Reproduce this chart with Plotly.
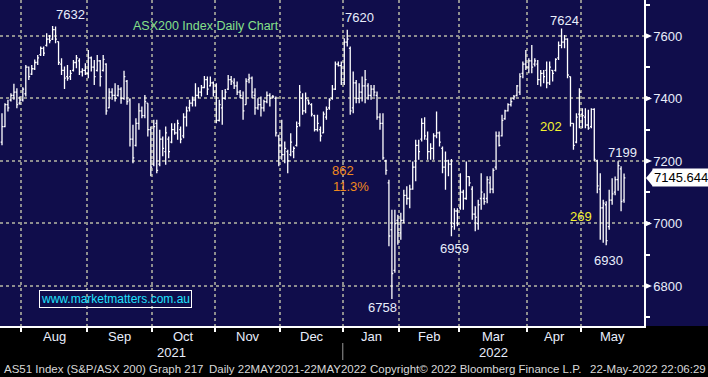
import pandas as pd
import plotly.graph_objects as go

# ---------------- data (ASX200 daily OHLC) ----------------
holidays = ["2021-12-27", "2021-12-28", "2022-01-03", "2022-01-26",
            "2022-04-15", "2022-04-18", "2022-04-25"]
dates = [d for d in pd.bdate_range("2021-07-22", "2022-05-20")
         if d.strftime("%Y-%m-%d") not in holidays]

opens = [
    # Jul
    7260, 7310, 7380, 7395, 7410, 7420, 7385,
    # Aug
    7395, 7415, 7500, 7478, 7495, 7515, 7540, 7560, 7570, 7590, 7590, 7620, 7582, 7510, 7490, 7470, 7470, 7490, 7515, 7520, 7485, 7490,
    # Sep
    7480, 7530, 7500, 7490, 7520, 7490, 7510, 7370, 7420, 7410, 7410, 7430, 7400, 7455, 7395, 7270, 7250, 7320, 7360, 7345, 7385, 7300,
    # Oct
    7190, 7320, 7190, 7270, 7230, 7270, 7260, 7300, 7290, 7300, 7280, 7340, 7370, 7385, 7395, 7410, 7420, 7435, 7460, 7440, 7450,
    # Nov
    7440, 7330, 7370, 7400, 7430, 7460, 7450, 7440, 7420, 7400, 7380, 7460, 7465, 7410, 7370, 7380, 7370, 7390, 7410, 7405, 7400, 7280,
    # Dec
    7250, 7220, 7230, 7220, 7230, 7250, 7320, 7400, 7360, 7395, 7380, 7345, 7300, 7300, 7290, 7340, 7370, 7400, 7430, 7510, 7505,
    # Jan
    7450, 7580, 7560, 7370, 7450, 7400, 7420, 7440, 7440, 7410, 7430, 7410, 7340, 7320, 7200, 7130, 6980, 6850, 7010,
    # Feb
    6970, 7010, 7090, 7080, 7110, 7180, 7250, 7270, 7320, 7270, 7230, 7240, 7280, 7290, 7240, 7180, 7200, 7190, 7000, 7040,
    # Mar
    7050, 7100, 7080, 7150, 7110, 7030, 7000, 7080, 7080, 7080, 7130, 7110, 7180, 7280, 7280, 7335, 7360, 7380, 7400, 7410, 7420, 7480, 7510,
    # Apr
    7500, 7520, 7510, 7510, 7460, 7480, 7490, 7450, 7490, 7490, 7530, 7570, 7580, 7590, 7470, 7320, 7260, 7350,
    # May
    7350, 7340, 7315, 7310, 7365, 7200, 7110, 7050, 7060, 6990, 7075, 7100, 7140, 7175, 7075,
]
highs = [
    7353, 7385, 7396, 7417, 7447, 7433, 7406,
    7436, 7507, 7502, 7507, 7525, 7539, 7566, 7566, 7609, 7603, 7632, 7630, 7582, 7529, 7502, 7507, 7491, 7523, 7539, 7529, 7497, 7513,
    7555, 7534, 7523, 7539, 7523, 7539, 7513, 7433, 7433, 7449, 7443, 7436, 7489, 7459, 7401, 7316, 7337, 7385, 7374, 7411, 7385, 7310,
    7332, 7332, 7300, 7278, 7310, 7278, 7321, 7321, 7332, 7310, 7353, 7374, 7396, 7406, 7449, 7436, 7443, 7472, 7470, 7470, 7454,
    7449, 7396, 7427, 7430, 7475, 7472, 7465, 7454, 7427, 7422, 7465, 7479, 7470, 7433, 7401, 7406, 7396, 7422, 7417, 7411, 7406, 7284,
    7332, 7262, 7236, 7289, 7246, 7326, 7443, 7417, 7419, 7396, 7385, 7348, 7348, 7310, 7358, 7374, 7401, 7443, 7518, 7518, 7518,
    7593, 7620, 7566, 7486, 7459, 7449, 7470, 7491, 7449, 7443, 7443, 7422, 7353, 7353, 7204, 7140, 7044, 7044, 7028,
    7034, 7108, 7119, 7124, 7198, 7268, 7268, 7337, 7340, 7294, 7257, 7289, 7358, 7294, 7246, 7230, 7204, 7206, 7049, 7049,
    7161, 7108, 7198, 7151, 7119, 7055, 7076, 7161, 7097, 7151, 7151, 7177, 7294, 7294, 7348, 7364, 7385, 7401, 7411, 7443, 7481, 7518, 7555,
    7529, 7571, 7529, 7523, 7491, 7491, 7518, 7518, 7491, 7529, 7582, 7624, 7603, 7593, 7470, 7321, 7353, 7433,
    7369, 7369, 7364, 7369, 7369, 7204, 7161, 7076, 7071, 7108, 7145, 7150, 7199, 7183, 7160,
]
lows = [
    7250, 7308, 7358, 7390, 7396, 7369, 7380,
    7390, 7406, 7459, 7475, 7491, 7507, 7536, 7536, 7566, 7577, 7587, 7577, 7507, 7475, 7430, 7457, 7459, 7486, 7497, 7475, 7470, 7475,
    7465, 7486, 7443, 7486, 7438, 7486, 7348, 7369, 7396, 7390, 7406, 7383, 7396, 7380, 7246, 7193, 7246, 7300, 7337, 7337, 7278, 7151,
    7183, 7161, 7183, 7215, 7188, 7209, 7257, 7284, 7268, 7257, 7273, 7310, 7358, 7374, 7374, 7401, 7406, 7433, 7411, 7438, 7406,
    7321, 7326, 7316, 7396, 7427, 7443, 7430, 7411, 7401, 7332, 7380, 7449, 7401, 7348, 7364, 7342, 7358, 7385, 7374, 7401, 7278, 7183,
    7204, 7193, 7161, 7215, 7209, 7246, 7310, 7348, 7353, 7380, 7342, 7294, 7294, 7262, 7289, 7332, 7364, 7396, 7427, 7502, 7443,
    7443, 7566, 7348, 7353, 7385, 7385, 7390, 7385, 7396, 7396, 7406, 7332, 7300, 7204, 7156, 6927, 6758, 6842, 6932,
    6948, 7001, 7060, 7049, 7108, 7135, 7204, 7262, 7268, 7204, 7204, 7204, 7273, 7246, 7161, 7108, 7151, 6959, 6980, 6991,
    7044, 7044, 7076, 7119, 7012, 6975, 6980, 7044, 7060, 7065, 7097, 7097, 7172, 7246, 7278, 7332, 7358, 7374, 7396, 7406, 7411, 7465, 7491,
    7481, 7481, 7502, 7443, 7438, 7449, 7433, 7443, 7454, 7486, 7523, 7561, 7561, 7465, 7310, 7236, 7257, 7305,
    7305, 7305, 7300, 7305, 7200, 7097, 6948, 6938, 6930, 6980, 7060, 7090, 7105, 7039, 7066,
]
closes = [
    7310, 7380, 7370, 7410, 7420, 7380, 7395,
    7430, 7500, 7470, 7495, 7515, 7530, 7560, 7545, 7590, 7585, 7620, 7590, 7515, 7490, 7465, 7465, 7480, 7515, 7530, 7485, 7490, 7480,
    7530, 7500, 7470, 7520, 7470, 7525, 7360, 7420, 7410, 7400, 7430, 7400, 7470, 7390, 7270, 7210, 7320, 7360, 7345, 7390, 7300, 7180,
    7310, 7170, 7270, 7240, 7290, 7230, 7300, 7290, 7320, 7270, 7340, 7360, 7385, 7395, 7410, 7420, 7435, 7460, 7430, 7450, 7420,
    7330, 7380, 7400, 7420, 7460, 7455, 7440, 7420, 7410, 7360, 7455, 7465, 7420, 7370, 7380, 7370, 7390, 7410, 7400, 7405, 7290, 7250,
    7220, 7240, 7200, 7260, 7240, 7310, 7420, 7360, 7400, 7385, 7350, 7300, 7320, 7280, 7350, 7365, 7395, 7430, 7510, 7505, 7450,
    7580, 7590, 7360, 7450, 7400, 7420, 7440, 7460, 7410, 7430, 7420, 7340, 7320, 7210, 7170, 6960, 6840, 7000, 6970,
    7010, 7090, 7080, 7110, 7180, 7250, 7230, 7320, 7280, 7230, 7240, 7280, 7290, 7260, 7180, 7200, 7190, 6990, 7040, 7000,
    7100, 7080, 7150, 7130, 7030, 7020, 7060, 7100, 7070, 7140, 7110, 7170, 7280, 7250, 7330, 7360, 7380, 7390, 7405, 7440, 7470, 7510, 7500,
    7520, 7500, 7520, 7460, 7480, 7470, 7450, 7500, 7480, 7525, 7570, 7580, 7590, 7475, 7320, 7250, 7340, 7420,
    7345, 7315, 7305, 7365, 7205, 7120, 7050, 7065, 6945, 7075, 7095, 7140, 7185, 7070, 7145.644,
]

y_major = [6800, 7000, 7200, 7400, 7600]
y_minor = [6700, 6900, 7100, 7300, 7500, 7700]
month_names = ["Aug", "Sep", "Oct", "Nov", "Dec", "Jan", "Feb", "Mar", "Apr", "May"]
year_labels = ["2021", "2022"]
swing_labels = ["202", "269"]
drop_labels = ["862", "11.3%"]

# ---------------- styling ----------------
NAVY = "#100d4b"
WHITE_TXT = "#e9eefc"
FONT = "Liberation Sans, Arial, sans-serif"
PLOT_W, PLOT_H = 644, 326
X_MIN, X_MAX = -0.672, 215.7
Y_MIN, Y_MAX = 6672, 7715

n = len(closes)
xs = list(range(n))

# month boundaries (between last bar of a month and first of next)
bounds = [i - 0.5 for i in range(1, n) if dates[i].month != dates[i - 1].month]
edges = bounds + [X_MAX]
month_mids = [(edges[k] + edges[k + 1]) / 2 for k in range(len(bounds))]
jan_bound = bounds[month_names.index("Jan")]

fig = go.Figure()
fig.add_trace(go.Ohlc(
    x=xs, open=opens, high=highs, low=lows, close=closes,
    increasing=dict(line=dict(color="white", width=1.3)),
    decreasing=dict(line=dict(color="white", width=1.3)),
    tickwidth=0.45, hoverinfo="skip", showlegend=False,
))

shapes = [
    # navy backdrop behind right axis
    dict(type="rect", xref="paper", yref="paper", x0=1, x1=1 + 64 / PLOT_W, y0=0, y1=1,
         fillcolor=NAVY, line=dict(width=0), layer="below"),
    # year separator
    dict(type="line", xref="x", yref="paper", x0=jan_bound, x1=jan_bound,
         y0=-17 / PLOT_H, y1=-34 / PLOT_H, line=dict(color="#9a9a9a", width=1)),
]
for v in y_major:
    shapes.append(dict(type="path", xref="paper", yref="y", xsizemode="pixel", ysizemode="pixel",
                       xanchor=1, yanchor=v, path="M0,3.5 L8,0 L0,-3.5 Z",
                       fillcolor="white", line=dict(width=0)))
# price tag arrow
shapes.append(dict(type="path", xref="paper", yref="y", xsizemode="pixel", ysizemode="pixel",
                   xanchor=1, yanchor=closes[-1], path="M2,0 L9,8.5 L9,-8.5 Z",
                   fillcolor="white", line=dict(width=0)))

ann = []
for name, mx in zip(month_names, month_mids):
    ann.append(dict(x=mx, y=0, xref="x", yref="paper", text=name, showarrow=False,
                    xanchor="center", yanchor="middle", yshift=-10,
                    font=dict(family=FONT, size=13, color=WHITE_TXT)))
for lab, cx in zip(year_labels, [(X_MIN + jan_bound) / 2, (jan_bound + X_MAX) / 2]):
    ann.append(dict(x=cx, y=0, xref="x", yref="paper", text=lab, showarrow=False,
                    xanchor="center", yanchor="middle", yshift=-26,
                    font=dict(family=FONT, size=13, color=WHITE_TXT)))

footer = [("AS51 Index (S&P/ASX 200) Graph 217", 2), ("Daily 22MAY2021-22MAY2022", 207),
          ("Copyright© 2022 Bloomberg Finance L.P.", 368), ("22-May-2022 22:06:29", 588)]
for txt, px in footer:
    ann.append(dict(x=px / PLOT_W, y=0, xref="paper", yref="paper", text=txt, showarrow=False,
                    xanchor="left", yanchor="middle", yshift=-43,
                    font=dict(family=FONT, size=11.5, color="#d8d8d8")))

# extreme labels anchored at their bars
def lab_at(i, val, dx, dy):
    ann.append(dict(x=xs[i], y=val, xref="x", yref="y", text=f"{val:.0f}", showarrow=False,
                    xanchor="center", yanchor="middle", xshift=dx, yshift=dy,
                    font=dict(family=FONT, size=13, color=WHITE_TXT)))

i_aug = max(range(0, 60), key=lambda i: highs[i])
i_jan = max(range(100, 130), key=lambda i: highs[i])
i_apr = max(range(170, 200), key=lambda i: highs[i])
i_low = min(range(n), key=lambda i: lows[i])
i_feb = min(range(140, 165), key=lambda i: lows[i])
i_may = min(range(195, n), key=lambda i: lows[i])
i_mayh = max(range(204, n), key=lambda i: highs[i])
lab_at(i_aug, highs[i_aug], 18, 11)
lab_at(i_jan, highs[i_jan], 12, 12)
lab_at(i_apr, highs[i_apr], 3, 8)
lab_at(i_low, lows[i_low], -9, -8)
lab_at(i_feb, lows[i_feb], 3, -12)
lab_at(i_may, lows[i_may], 2, -15)
lab_at(i_mayh, highs[i_mayh], 4, 9)

ORANGE = "#f08a1e"
YELLOW = "#f4f430"
ann.append(dict(x=114.6, y=7168, xref="x", yref="y", text=drop_labels[0], showarrow=False,
                font=dict(family=FONT, size=13, color=ORANGE)))
ann.append(dict(x=117.3, y=7117, xref="x", yref="y", text=drop_labels[1], showarrow=False,
                font=dict(family=FONT, size=13, color=ORANGE)))
ann.append(dict(x=184.5, y=7309, xref="x", yref="y", text=swing_labels[0], showarrow=False,
                font=dict(family=FONT, size=13, color=YELLOW)))
ann.append(dict(x=194.6, y=7021, xref="x", yref="y", text=swing_labels[1], showarrow=False,
                font=dict(family=FONT, size=13, color=YELLOW)))

ann.append(dict(x=206 / PLOT_W, y=1 - 26 / PLOT_H, xref="paper", yref="paper",
                text="ASX200 Index Daily Chart", showarrow=False, xanchor="center", yanchor="middle",
                font=dict(family=FONT, size=12.5, color="#86e08a")))
ann.append(dict(x=115.5 / PLOT_W, y=1 - 299 / PLOT_H, xref="paper", yref="paper",
                text="www.marketmatters.com.au", showarrow=False, xanchor="center", yanchor="middle",
                bordercolor="white", borderwidth=1, borderpad=1,
                font=dict(family=FONT, size=12, color="#1fe3ff")))
# last price tag
ann.append(dict(x=1, y=closes[-1], xref="paper", yref="y", text=f"{closes[-1]:.3f}",
                showarrow=False, xanchor="left", yanchor="middle", xshift=8,
                bgcolor="white", borderpad=1,
                font=dict(family=FONT, size=13, color="black")))

fig.update_layout(
    width=708, height=377, autosize=False,
    margin=dict(l=0, r=64, t=0, b=51, pad=0),
    paper_bgcolor="black", plot_bgcolor=NAVY,
    showlegend=False, shapes=shapes, annotations=ann,
    xaxis=dict(range=[X_MIN, X_MAX], tickmode="array", tickvals=bounds,
               ticktext=[""] * len(bounds), showticklabels=False,
               ticks="outside", ticklen=4, tickwidth=1.5, tickcolor="white",
               showgrid=True, gridcolor="#8e8e8e", gridwidth=2, griddash="dot",
               showline=True, linecolor="white", linewidth=2, zeroline=False,
               rangeslider=dict(visible=False), fixedrange=True),
    yaxis=dict(range=[Y_MIN, Y_MAX], side="right", tickmode="array", tickvals=y_major,
               ticktext=[str(v) for v in y_major], ticks="outside", ticklen=4,
               tickcolor="white", tickwidth=1.5, ticklabelstandoff=1,
               tickfont=dict(family=FONT, size=13, color=WHITE_TXT),
               showgrid=True, gridcolor="#8e8e8e", gridwidth=2, griddash="dot",
               showline=True, linecolor="white", linewidth=1.5, zeroline=False,
               minor=dict(tickmode="array", tickvals=y_minor, ticks="outside", ticklen=4,
                          tickcolor="white", tickwidth=1.5, showgrid=False),
               fixedrange=True),
)

fig.write_html("out.html", config={"displayModeBar": False},
               post_script="document.body.style.margin='0';document.body.style.padding='0';"
                           "document.body.style.overflow='hidden';")
